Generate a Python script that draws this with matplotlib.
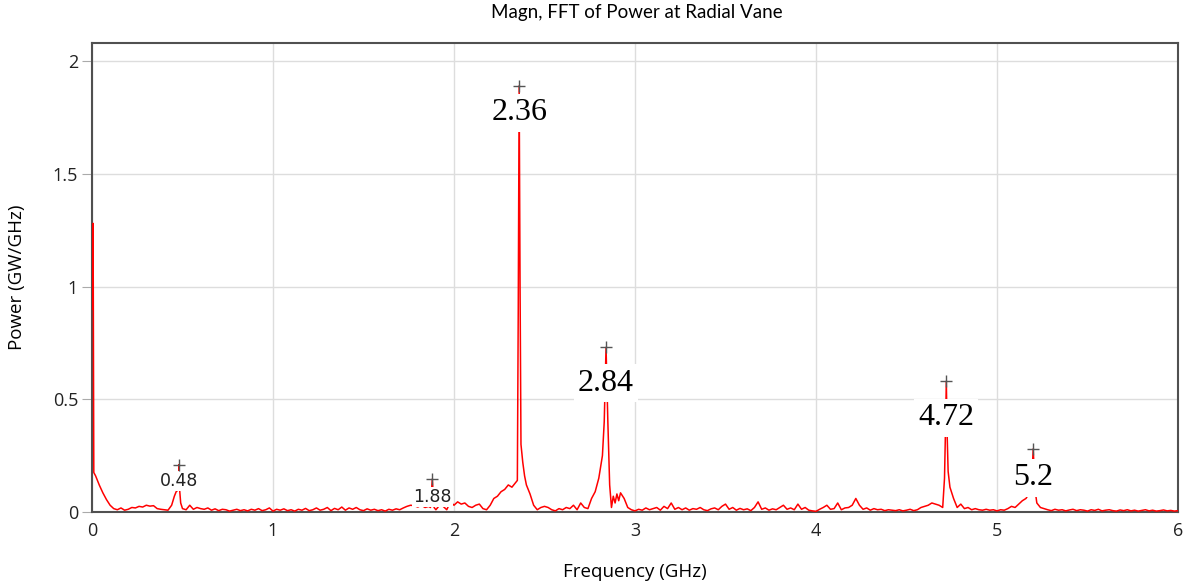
import numpy as np
import matplotlib.pyplot as plt

# spectrum, split in pieces (GHz, GW/GHz)
low_f = [0.0, 0.006, 0.01, 0.02, 0.04, 0.06, 0.08, 0.10, 0.12, 0.14, 0.16, 0.18, 0.20,
         0.22, 0.24, 0.26, 0.28, 0.30, 0.32, 0.34, 0.36, 0.38, 0.40, 0.42, 0.44,
         0.455, 0.465, 0.472, 0.478, 0.48, 0.484, 0.49, 0.50, 0.52, 0.54, 0.56,
         0.58, 0.60]
low_p = [0.9, 1.28, 0.175, 0.16, 0.12, 0.085, 0.055, 0.03, 0.015, 0.01, 0.018, 0.008, 0.012,
         0.02, 0.018, 0.025, 0.022, 0.03, 0.026, 0.028, 0.015, 0.012, 0.01, 0.008, 0.03,
         0.07, 0.09, 0.095, 0.10, 0.21, 0.10, 0.04, 0.015, 0.01, 0.03, 0.012,
         0.02, 0.015]

mid_f = [0.62, 0.64, 0.66, 0.68, 0.70, 0.72, 0.74, 0.76, 0.78, 0.80, 0.82, 0.84,
         0.86, 0.88, 0.90, 0.92, 0.94, 0.96, 0.98, 1.00, 1.02, 1.04, 1.06, 1.08,
         1.10, 1.12, 1.14, 1.16, 1.18, 1.20, 1.22, 1.24, 1.26, 1.28, 1.30, 1.32,
         1.34, 1.36, 1.38, 1.40, 1.42, 1.44, 1.46, 1.48, 1.50, 1.52, 1.54, 1.56,
         1.58, 1.60, 1.62, 1.64, 1.66, 1.68, 1.70, 1.72, 1.74, 1.76, 1.78, 1.80,
         1.82, 1.84, 1.86, 1.87, 1.88, 1.89, 1.90, 1.92, 1.94, 1.96, 1.98, 2.00,
         2.02, 2.04, 2.06, 2.08, 2.10, 2.12, 2.14, 2.16, 2.18, 2.20]
mid_p = [0.012, 0.018, 0.008, 0.014, 0.006, 0.012, 0.01, 0.004, 0.008, 0.012, 0.006, 0.01,
         0.005, 0.012, 0.008, 0.015, 0.006, 0.01, 0.018, 0.004, 0.012, 0.008, 0.014, 0.006,
         0.01, 0.004, 0.012, 0.008, 0.016, 0.006, 0.01, 0.018, 0.008, 0.012, 0.02, 0.006,
         0.016, 0.01, 0.022, 0.008, 0.018, 0.012, 0.02, 0.01, 0.006, 0.014, 0.008, 0.012,
         0.006, 0.01, 0.004, 0.012, 0.008, 0.014, 0.01, 0.018, 0.025, 0.03, 0.028, 0.022,
         0.03, 0.02, 0.025, 0.02, 0.146, 0.02, 0.01, 0.03, 0.025, 0.01, 0.045, 0.03,
         0.045, 0.035, 0.04, 0.025, 0.02, 0.03, 0.035, 0.015, 0.01, 0.03]

main_f = [2.22, 2.24, 2.26, 2.28, 2.30, 2.32, 2.34, 2.35, 2.355, 2.36, 2.365, 2.37,
          2.38, 2.39, 2.40, 2.42, 2.44, 2.46, 2.48, 2.50, 2.52, 2.54, 2.56, 2.58,
          2.60, 2.62, 2.64, 2.66, 2.68, 2.70, 2.72, 2.74, 2.76, 2.78, 2.80, 2.82,
          2.83, 2.84, 2.85, 2.86, 2.87, 2.88, 2.89, 2.90, 2.91, 2.92, 2.94, 2.96,
          2.98, 3.00]
main_p = [0.06, 0.07, 0.09, 0.10, 0.12, 0.11, 0.13, 0.14, 0.9, 1.89, 1.0, 0.3,
          0.22, 0.16, 0.12, 0.08, 0.03, 0.01, 0.02, 0.025, 0.02, 0.01, 0.005, 0.015,
          0.01, 0.02, 0.015, 0.03, 0.01, 0.04, 0.02, 0.015, 0.06, 0.09, 0.15, 0.25,
          0.4, 0.73, 0.4, 0.12, 0.02, 0.07, 0.04, 0.08, 0.05, 0.085, 0.06, 0.02,
          0.01, 0.005]

high_f = [3.02, 3.04, 3.06, 3.08, 3.10, 3.12, 3.14, 3.16, 3.18, 3.20, 3.22, 3.24,
          3.26, 3.28, 3.30, 3.32, 3.34, 3.36, 3.38, 3.40, 3.42, 3.44, 3.46, 3.48,
          3.50, 3.52, 3.54, 3.56, 3.58, 3.60, 3.62, 3.64, 3.66, 3.68, 3.70, 3.72,
          3.74, 3.76, 3.78, 3.80, 3.82, 3.84, 3.86, 3.88, 3.90, 3.92, 3.94, 3.96,
          3.98, 4.00, 4.02, 4.04, 4.06, 4.08, 4.10, 4.12, 4.14, 4.16, 4.18, 4.20,
          4.22, 4.24, 4.26, 4.28, 4.30, 4.32, 4.34, 4.36, 4.38, 4.40, 4.42, 4.44,
          4.46, 4.48, 4.50, 4.52, 4.54, 4.56, 4.58, 4.60]
high_p = [0.012, 0.008, 0.018, 0.01, 0.015, 0.02, 0.008, 0.025, 0.015, 0.04, 0.012, 0.02,
          0.01, 0.018, 0.008, 0.015, 0.012, 0.02, 0.01, 0.006, 0.014, 0.018, 0.01, 0.025,
          0.035, 0.012, 0.02, 0.008, 0.016, 0.01, 0.014, 0.006, 0.02, 0.045, 0.012, 0.018,
          0.008, 0.014, 0.01, 0.02, 0.03, 0.012, 0.018, 0.01, 0.035, 0.012, 0.02, 0.008,
          0.005, 0.003, 0.012, 0.02, 0.03, 0.012, 0.015, 0.04, 0.01, 0.018, 0.02, 0.03,
          0.06, 0.03, 0.012, 0.018, 0.008, 0.015, 0.01, 0.012, 0.006, 0.01, 0.008, 0.006,
          0.01, 0.005, 0.008, 0.012, 0.006, 0.01, 0.02, 0.025]

top_f = [4.62, 4.64, 4.66, 4.68, 4.70, 4.71, 4.715, 4.72, 4.725, 4.73, 4.74, 4.76,
         4.78, 4.80, 4.82, 4.84, 4.86, 4.88, 4.90, 4.92, 4.94, 4.96, 4.98, 5.00,
         5.02, 5.04, 5.06, 5.08, 5.10, 5.12, 5.14, 5.16, 5.18, 5.19, 5.20, 5.21,
         5.22, 5.24, 5.26, 5.28, 5.30, 5.32, 5.34, 5.36, 5.38, 5.40, 5.42, 5.44,
         5.46, 5.48, 5.50, 5.52, 5.54, 5.56, 5.58, 5.60, 5.62, 5.64, 5.66, 5.68,
         5.70, 5.72, 5.74, 5.76, 5.78, 5.80, 5.82, 5.84, 5.86, 5.88, 5.90, 5.92,
         5.94, 5.96, 5.98, 6.00]
top_p = [0.03, 0.04, 0.035, 0.03, 0.02, 0.15, 0.35, 0.58, 0.33, 0.18, 0.11, 0.06,
         0.02, 0.035, 0.015, 0.02, 0.01, 0.015, 0.01, 0.008, 0.012, 0.008, 0.01, 0.005,
         0.01, 0.008, 0.015, 0.025, 0.02, 0.035, 0.05, 0.06, 0.085, 0.10, 0.28, 0.10,
         0.04, 0.02, 0.015, 0.01, 0.006, 0.012, 0.008, 0.01, 0.005, 0.009, 0.012, 0.006,
         0.01, 0.008, 0.004, 0.01, 0.007, 0.012, 0.005, 0.008, 0.01, 0.006, 0.004, 0.009,
         0.006, 0.01, 0.005, 0.008, 0.004, 0.007, 0.01, 0.005, 0.008, 0.004, 0.006, 0.009,
         0.005, 0.007, 0.004, 0.006]

# marked peaks and their labels
peak_f = [0.48, 1.88, 2.36, 2.84, 4.72, 5.2]
peak_p = [0.21, 0.146, 1.89, 0.73, 0.58, 0.28]
peak_labels = ['0.48', '1.88', '2.36', '2.84', '4.72', '5.2']
label_y = [0.137, 0.067, 1.77, 0.572, 0.417, 0.151]
label_big = [False, False, True, True, True, True]

freq = np.array(low_f + mid_f + main_f + high_f + top_f)
power = np.array(low_p + mid_p + main_p + high_p + top_p)

fig = plt.figure(figsize=(11.97, 5.87), dpi=100)
ax = fig.add_axes([92 / 1197, 75 / 587, 1086 / 1197, 469 / 587])

ax.plot(freq, power, color='#ff0000', lw=1.1, zorder=3)
ax.plot(peak_f, peak_p, '+', color='#555555', ms=8, mew=1.0, zorder=5)

for f, y, txt, big in zip(peak_f, label_y, peak_labels, label_big):
    if big:
        ax.text(f, y, txt, ha='center', va='center', fontsize=23,
                family='Liberation Serif', color='black', zorder=4,
                bbox=dict(facecolor='white', edgecolor='none', pad=3))
    else:
        ax.text(f, y, txt, ha='center', va='center', fontsize=12.5,
                family='DejaVu Sans', color='#222222', zorder=4,
                bbox=dict(facecolor='white', edgecolor='none', pad=1))

ax.set_xlim(0, 6)
ax.set_ylim(0, 2.08)
ax.set_xticks([0, 1, 2, 3, 4, 5, 6])
ax.set_yticks([0, 0.5, 1, 1.5, 2])
ax.set_yticklabels(['0', '0.5', '1', '1.5', '2'])
ax.grid(True, color='#dddddd', lw=1)
ax.set_axisbelow(True)
for s in ax.spines.values():
    s.set_color('#505050')
    s.set_linewidth(1.5)
ax.tick_params(axis='y', length=7, color='#aaaaaa', labelsize=13, pad=3)
ax.tick_params(axis='x', length=0, labelsize=13, pad=7)
for lab in ax.get_xticklabels() + ax.get_yticklabels():
    lab.set_family('Open Sans')
    lab.set_color('#222222')

ax.set_xlabel('Frequency (GHz)', family='Open Sans', fontsize=13.5, labelpad=17)
ax.set_ylabel('Power (GW/GHz)', family='Open Sans', fontsize=13.5, labelpad=19)
fig.text(0.532, 0.978, 'Magn, FFT of Power at Radial Vane', family='Lato',
         fontsize=13.5, ha='center', va='center')

fig.savefig('out.png', dpi=100)
